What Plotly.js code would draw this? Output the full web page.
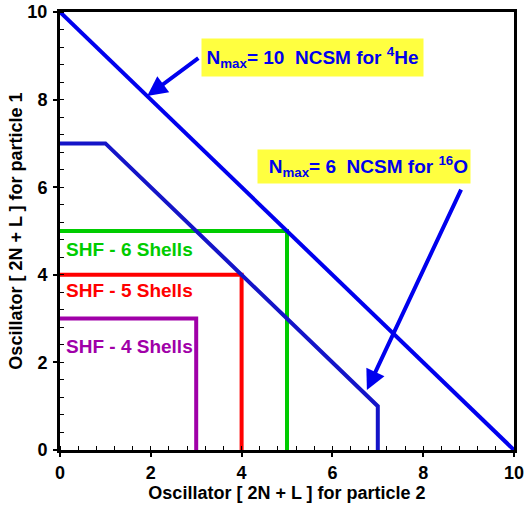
<!DOCTYPE html>
<html><head><meta charset="utf-8">
<script src="https://cdn.plot.ly/plotly-3.0.1.min.js"></script>
<style>html,body{margin:0;padding:0;background:#fff;}#chart{width:524px;height:506px;}</style>
</head><body><div id="chart"></div>
<script>
// Data
var he4X = [0, 10];
var he4Y = [10, 0];
var o16X = [0, 1, 7, 7];
var o16Y = [7, 7, 1, 0];
var shf6X = [0, 5, 5];
var shf6Y = [5, 5, 0];
var shf5X = [0, 4, 4];
var shf5Y = [4, 4, 0];
var shf4X = [0, 3, 3];
var shf4Y = [3, 3, 0];
var shfLabels = ['SHF - 6 Shells', 'SHF - 5 Shells', 'SHF - 4 Shells'];
var shfLabelY = [4.57, 3.65, 2.37];
var shfColors = ['#00cc00', '#ff0000', '#a000a8'];

var F = 'Liberation Sans, Arial, Helvetica, sans-serif';

function tr(x, y, c) {
  return {x: x, y: y, mode: 'lines', type: 'scatter', line: {color: c, width: 4}, hoverinfo: 'skip'};
}
var data = [
  tr(shf4X, shf4Y, shfColors[2]),
  tr(shf5X, shf5Y, shfColors[1]),
  tr(shf6X, shf6Y, shfColors[0]),
  tr(o16X, o16Y, '#1414c8'),
  tr(he4X, he4Y, '#0000ee')
];

var annotations = [];
for (var i = 0; i < shfLabels.length; i++) {
  annotations.push({x: 0.08, y: shfLabelY[i], xref: 'x', yref: 'y', xanchor: 'left', yanchor: 'middle',
    text: '<b>' + shfLabels[i] + '</b>', showarrow: false, font: {family: F, size: 19, color: shfColors[i]}});
}
// arrows
annotations.push({x: 1.92, y: 8.08, ax: 3.08, ay: 8.97, axref: 'x', ayref: 'y', xref: 'x', yref: 'y',
  text: '', showarrow: true, arrowhead: 2, arrowsize: 1, arrowwidth: 4, arrowcolor: '#0000ee'});
annotations.push({x: 6.76, y: 1.37, ax: 8.85, ay: 5.98, axref: 'x', ayref: 'y', xref: 'x', yref: 'y',
  text: '', showarrow: true, arrowhead: 2, arrowsize: 1, arrowwidth: 4, arrowcolor: '#0000ee'});
// boxes
annotations.push({x: 5.57, y: 8.95, xref: 'x', yref: 'y', showarrow: false,
  text: '<b>N<sub>max</sub>= 10  NCSM for <sup>4</sup>He</b>', bgcolor: '#ffff40',
  width: 217, height: 33, borderpad: 2, align: 'center', font: {family: F, size: 19, color: '#0000ee'}});
annotations.push({x: 6.70, y: 6.47, xref: 'x', yref: 'y', showarrow: false,
  text: '<b>N<sub>max</sub>= 6  NCSM for <sup>16</sup>O</b>', bgcolor: '#ffff40',
  width: 208, height: 29, borderpad: 2, align: 'right', font: {family: F, size: 19, color: '#0000ee'}});

var axisCommon = {
  range: [0, 10], dtick: 2, tick0: 0, showgrid: false, zeroline: false,
  showline: true, linewidth: 3, linecolor: '#000', mirror: true,
  ticks: 'outside', ticklen: 4, tickwidth: 2, tickcolor: '#000',
  ticklabeloverflow: 'allow',
  tickfont: {family: F, size: 18, color: '#000', weight: 'bold'},
  minor: {dtick: 0.4, ticks: 'inside', ticklen: 4, tickwidth: 1, tickcolor: '#000', showgrid: false}
};
var xaxis = Object.assign({}, axisCommon, {ticklabelstandoff: 0, title: {text: '<b>Oscillator [ 2N + L ] for particle 2</b>', font: {family: F, size: 18, color: '#000'}, standoff: 0}});
var yaxis = Object.assign({}, axisCommon, {ticklabelstandoff: 2, title: {text: '<b>Oscillator [ 2N + L ] for particle 1</b>', font: {family: F, size: 18, color: '#000'}, standoff: 1}});

var layout = {
  width: 524, height: 506,
  margin: {l: 60, r: 10, t: 12, b: 56},
  showlegend: false,
  paper_bgcolor: '#fff', plot_bgcolor: '#fff',
  xaxis: xaxis, yaxis: yaxis,
  annotations: annotations
};
Plotly.newPlot('chart', data, layout, {displayModeBar: false, staticPlot: true});
</script></body></html>
